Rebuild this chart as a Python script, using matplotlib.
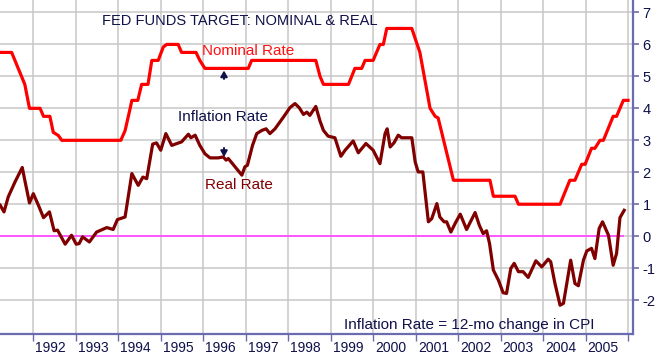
import matplotlib
matplotlib.use('Agg')
import matplotlib.pyplot as plt
from matplotlib.transforms import blended_transform_factory

plt.rcParams['font.family'] = ['Liberation Sans', 'DejaVu Sans']
plt.rcParams['axes.unicode_minus'] = False

# Fed funds target (nominal)
nom_dates = [1991.22, 1991.49, 1991.80, 1991.91, 1992.16, 1992.24, 1992.39, 1992.47,
             1992.59, 1992.67, 1994.06, 1994.16, 1994.28, 1994.32, 1994.46, 1994.55,
             1994.70, 1994.79, 1994.94, 1995.06, 1995.14, 1995.41, 1995.49, 1995.83,
             1995.92, 1996.04, 1997.06, 1997.14, 1998.65, 1998.75, 1998.83, 1999.42,
             1999.57, 1999.73, 1999.81, 2000.00, 2000.16, 2000.24, 2000.32, 2000.91,
             2001.10, 2001.34, 2001.46, 2001.53, 2001.89, 2002.75, 2002.83, 2003.34,
             2003.42, 2004.40, 2004.63, 2004.75, 2004.91, 2004.99, 2005.14, 2005.22,
             2005.34, 2005.42, 2005.65, 2005.73, 2005.89, 2006.00]
nom_vals = [5.75, 5.75, 4.75, 4.0, 4.0, 3.75, 3.75, 3.25,
            3.15, 3.0, 3.0, 3.3, 4.0, 4.25, 4.25, 4.75,
            4.75, 5.5, 5.5, 5.92, 6.0, 6.0, 5.75, 5.75,
            5.5, 5.25, 5.25, 5.5, 5.5, 5.0, 4.75, 4.75,
            5.25, 5.25, 5.5, 5.5, 6.0, 6.0, 6.5, 6.5,
            5.75, 4.0, 3.75, 3.7, 1.75, 1.75, 1.25, 1.25,
            1.0, 1.0, 1.75, 1.75, 2.25, 2.25, 2.75, 2.75,
            3.0, 3.0, 3.75, 3.75, 4.25, 4.25]

# Real rate = nominal minus 12-mo CPI change
real_dates = [1991.22, 1991.31, 1991.41, 1991.57, 1991.74, 1991.80, 1991.91, 1992.00,
              1992.12, 1992.24, 1992.38, 1992.49, 1992.57, 1992.75, 1992.90, 1993.01,
              1993.08, 1993.16, 1993.32, 1993.49, 1993.73, 1993.88, 1993.98, 1994.16,
              1994.32, 1994.47, 1994.58, 1994.67, 1994.81, 1994.90, 1995.00, 1995.12,
              1995.26, 1995.38, 1995.49, 1995.65, 1995.71, 1995.81, 1995.92, 1996.04,
              1996.16, 1996.35, 1996.47, 1996.54, 1996.59, 1996.75, 1996.91, 1996.98,
              1997.04, 1997.16, 1997.26, 1997.38, 1997.48, 1997.57, 1997.69, 1997.89,
              1998.04, 1998.16, 1998.26, 1998.36, 1998.44, 1998.51, 1998.65, 1998.75,
              1998.83, 1998.94, 1999.10, 1999.24, 1999.34, 1999.53, 1999.65, 1999.83,
              2000.00, 2000.16, 2000.28, 2000.33, 2000.40, 2000.49, 2000.59, 2000.67,
              2000.91, 2000.99, 2001.06, 2001.17, 2001.30, 2001.38, 2001.50, 2001.57,
              2001.67, 2001.73, 2001.83, 2001.93, 2002.05, 2002.20, 2002.40, 2002.50,
              2002.59, 2002.67, 2002.74, 2002.83, 2002.95, 2003.06, 2003.14, 2003.24,
              2003.32, 2003.42, 2003.53, 2003.65, 2003.83, 2003.97, 2004.12, 2004.18,
              2004.28, 2004.40, 2004.48, 2004.65, 2004.75, 2004.83, 2004.95, 2005.03,
              2005.14, 2005.22, 2005.32, 2005.40, 2005.54, 2005.65, 2005.73, 2005.81,
              2005.91]
real_vals = [0.97, 0.76, 1.23, 1.70, 2.15, 1.75, 1.04, 1.33,
             0.97, 0.58, 0.76, 0.17, 0.19, -0.25, 0.03, -0.25,
             -0.23, -0.02, -0.18, 0.13, 0.27, 0.21, 0.52, 0.60,
             1.96, 1.59, 1.85, 1.80, 2.88, 2.92, 2.69, 3.21,
             2.84, 2.90, 2.95, 3.19, 3.08, 3.16, 2.84, 2.58,
             2.45, 2.45, 2.48, 2.38, 2.43, 2.17, 1.91, 2.17,
             2.22, 2.84, 3.21, 3.31, 3.36, 3.21, 3.36, 3.73,
             4.02, 4.15, 4.02, 3.81, 3.88, 3.78, 4.06, 3.60,
             3.31, 3.13, 3.08, 2.50, 2.69, 2.98, 2.61, 2.90,
             2.69, 2.27, 3.21, 3.36, 2.79, 2.92, 3.16, 3.08,
             3.08, 2.32, 2.01, 2.01, 0.45, 0.55, 1.02, 0.60,
             0.45, 0.45, 0.13, 0.40, 0.69, 0.21, 0.74, 0.34,
             0.08, 0.17, -0.23, -1.06, -1.38, -1.77, -1.79, -1.01,
             -0.85, -1.11, -1.11, -1.29, -0.77, -0.96, -0.72, -0.80,
             -1.48, -2.16, -2.10, -0.75, -1.48, -1.55, -0.75, -0.46,
             -0.38, -0.70, 0.24, 0.45, 0.03, -0.91, -0.54, 0.58,
             0.81]

years = list(range(1992, 2007))
year_labels = [str(y) for y in range(1992, 2006)]
y_ticks = list(range(-2, 8))

navy = '#10104a'
axis_col = '#6b6bb0'

fig = plt.figure(figsize=(6.6, 3.54), dpi=100)
ax = fig.add_axes([0, 20 / 354, 633 / 660, 334 / 354])

ax.set_xlim(1991.216, 2006.117)
ax.set_ylim(-3.06, 7.39)

# grid
for y in years:
    ax.axvline(y, color='#c8c8c8', lw=1.1, zorder=0)
for v in range(-2, 8):
    ax.axhline(v, color='#c8c8c8', lw=1.1, zorder=0)

ax.hlines(0, real_dates[0], real_dates[-1], color='#ff55ff', lw=1.4, zorder=1)
ax.plot(nom_dates, nom_vals, color='#ff0000', lw=2.3, zorder=3)
ax.plot(real_dates, real_vals, color='#800000', lw=2.3, zorder=3)

# axes styling
for s in ['left', 'top']:
    ax.spines[s].set_visible(False)
for s in ['bottom', 'right']:
    ax.spines[s].set_color(axis_col)
    ax.spines[s].set_linewidth(1.6)

ax.yaxis.tick_right()
ax.set_yticks(y_ticks)
ax.set_yticklabels([str(v) for v in y_ticks])
ax.tick_params(axis='y', length=4, width=1.2, color=axis_col, labelcolor=navy,
               labelsize=10.5, pad=3)
ax.set_xticks(years)
ax.set_xticklabels([])
ax.tick_params(axis='x', length=5, width=1.0, color=axis_col)

trans = blended_transform_factory(ax.transData, ax.transAxes)
for y, lab in zip(years, year_labels):
    ax.text(y + 0.05, -0.02, lab, transform=trans, ha='left', va='top',
            fontsize=10, color=navy, clip_on=False)

# labels
ax.text(240 / 633, (334 - 25) / 334, 'FED FUNDS TARGET: NOMINAL & REAL',
        transform=ax.transAxes, ha='center', va='baseline', fontsize=10.5, color=navy)
ax.text(248 / 633, (334 - 55) / 334, 'Nominal Rate', transform=ax.transAxes,
        ha='center', va='baseline', fontsize=11, color='#ff1010')
ax.text(222.7 / 633, (334 - 120.7) / 334, 'Inflation Rate', transform=ax.transAxes,
        ha='center', va='baseline', fontsize=11, color=navy)
ax.text(238.7 / 633, (334 - 189.3) / 334, 'Real Rate', transform=ax.transAxes,
        ha='center', va='baseline', fontsize=11, color='#800000')
ax.text(469.5 / 633, (334 - 329) / 334, 'Inflation Rate = 12-mo change in CPI',
        transform=ax.transAxes, ha='center', va='baseline', fontsize=11, color=navy)

# little arrows between the lines (up to nominal, down to real)
arrow = dict(arrowstyle='-|>,head_length=0.35,head_width=0.2', color=navy, lw=1.4,
             shrinkA=0, shrinkB=0)
ax.annotate('', xy=(224 / 633, (334 - 70.5) / 334), xytext=(224 / 633, (334 - 79) / 334),
            xycoords='axes fraction', arrowprops=arrow)
ax.annotate('', xy=(224 / 633, (334 - 157) / 334), xytext=(224 / 633, (334 - 148) / 334),
            xycoords='axes fraction', arrowprops=arrow)

fig.savefig('out.png', dpi=100)
